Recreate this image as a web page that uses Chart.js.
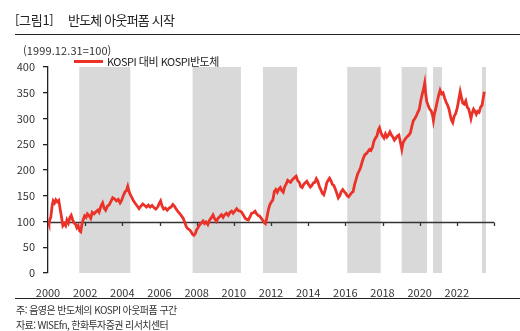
<!DOCTYPE html>
<html lang="ko">
<head>
<meta charset="utf-8">
<title>반도체 아웃퍼폼 시작</title>
<script src="https://cdn.jsdelivr.net/npm/chart.js@4.4.1/dist/chart.umd.min.js"></script>
<style>
  html, body { margin: 0; padding: 0; background: #fff; }
  #wrap { position: relative; width: 520px; height: 331px; overflow: hidden; font-family: "Noto Sans CJK KR", "Noto Sans", sans-serif; color: #222; }
  #chart { position: absolute; left: 0; top: 0; }
  .t { position: absolute; white-space: nowrap; line-height: 1; }
  .rule { position: absolute; left: 15px; right: 0; height: 1px; background: #222; }
</style>
</head>
<body>
<div id="wrap">
  <canvas id="chart" width="520" height="331"></canvas>
  <div class="t" style="left:15px; top:13px; font-size:13px; letter-spacing:-0.3px;">[그림1]</div>
  <div class="t" style="left:68px; top:13px; font-size:13px; letter-spacing:-0.8px;">반도체 아웃퍼폼 시작</div>
  <div class="rule" style="top:34px;"></div>
  <div class="t" style="left:23px; top:45px; font-size:11px; color:#333; letter-spacing:0.1px;">(1999.12.31=100)</div>
  <div style="position:absolute; left:74px; top:60px; width:29px; height:2.5px; background:#eb3228;"></div>
  <div class="t" style="left:107px; top:56px; font-size:11px; color:#222; letter-spacing:-0.5px;">KOSPI 대비 KOSPI반도체</div>
  <div class="rule" style="top:298px;"></div>
  <div class="t" style="left:16px; top:305px; font-size:10px; color:#333; letter-spacing:-0.55px;">주: 음영은 반도체의 KOSPI 아웃퍼폼 구간</div>
  <div class="t" style="left:16px; top:320px; font-size:10px; color:#333; letter-spacing:-0.6px;">자료: WISEfn, 한화투자증권 리서치센터</div>
</div>
<script>
// KOSPI반도체 / KOSPI relative index (1999.12.31 = 100)
const dates = [
  2000.00, 2000.05, 2000.10, 2000.15, 2000.22, 2000.28, 2000.35, 2000.42, 2000.50, 2000.58,
  2000.65, 2000.72, 2000.80, 2000.88, 2000.95, 2001.02, 2001.10, 2001.18, 2001.25, 2001.32,
  2001.40, 2001.48, 2001.55, 2001.62, 2001.70, 2001.76, 2001.83, 2001.90, 2001.97, 2002.05,
  2002.12, 2002.20, 2002.30, 2002.38, 2002.48, 2002.58, 2002.68, 2002.75, 2002.85, 2002.94,
  2003.02, 2003.10, 2003.20, 2003.30, 2003.40, 2003.48, 2003.58, 2003.68, 2003.78, 2003.88,
  2003.95, 2004.05, 2004.15, 2004.22, 2004.29, 2004.36, 2004.43, 2004.52, 2004.60, 2004.70,
  2004.80, 2004.90, 2005.00, 2005.10, 2005.20, 2005.30, 2005.40, 2005.50, 2005.60, 2005.70,
  2005.80, 2005.90, 2006.00, 2006.06, 2006.14, 2006.22, 2006.32, 2006.42, 2006.52, 2006.62,
  2006.72, 2006.80, 2006.90, 2007.00, 2007.10, 2007.20, 2007.28, 2007.36, 2007.44, 2007.52,
  2007.62, 2007.70, 2007.78, 2007.85, 2007.92, 2008.00, 2008.07, 2008.15, 2008.25, 2008.34,
  2008.42, 2008.50, 2008.60, 2008.70, 2008.80, 2008.88, 2008.96, 2009.06, 2009.15, 2009.25,
  2009.33, 2009.42, 2009.50, 2009.60, 2009.70, 2009.80, 2009.88, 2009.96, 2010.05, 2010.15,
  2010.25, 2010.35, 2010.42, 2010.52, 2010.62, 2010.70, 2010.78, 2010.88, 2010.96, 2011.05,
  2011.14, 2011.22, 2011.30, 2011.40, 2011.48, 2011.56, 2011.64, 2011.70, 2011.78, 2011.86,
  2011.94, 2012.02, 2012.10, 2012.18, 2012.26, 2012.34, 2012.42, 2012.50, 2012.58, 2012.66,
  2012.74, 2012.82, 2012.90, 2012.97, 2013.05, 2013.12, 2013.20, 2013.28, 2013.35, 2013.43,
  2013.52, 2013.60, 2013.68, 2013.76, 2013.84, 2013.93, 2014.02, 2014.12, 2014.20, 2014.28,
  2014.36, 2014.44, 2014.52, 2014.60, 2014.68, 2014.76, 2014.84, 2014.92, 2015.00, 2015.08,
  2015.15, 2015.22, 2015.30, 2015.38, 2015.46, 2015.54, 2015.62, 2015.70, 2015.78, 2015.86,
  2015.94, 2016.02, 2016.10, 2016.18, 2016.26, 2016.34, 2016.42, 2016.50, 2016.58, 2016.66,
  2016.74, 2016.82, 2016.90, 2016.98, 2017.06, 2017.14, 2017.22, 2017.30, 2017.38, 2017.46,
  2017.54, 2017.62, 2017.70, 2017.78, 2017.84, 2017.92, 2018.00, 2018.08, 2018.16, 2018.24,
  2018.32, 2018.40, 2018.48, 2018.56, 2018.64, 2018.72, 2018.80, 2018.88, 2018.96, 2019.04,
  2019.10, 2019.18, 2019.26, 2019.34, 2019.42, 2019.50, 2019.58, 2019.66, 2019.74, 2019.82,
  2019.90, 2019.98, 2020.06, 2020.14, 2020.20, 2020.27, 2020.32, 2020.38, 2020.46, 2020.54,
  2020.62, 2020.70, 2020.74, 2020.80, 2020.86, 2020.94, 2021.02, 2021.10, 2021.18, 2021.26,
  2021.34, 2021.42, 2021.50, 2021.58, 2021.66, 2021.72, 2021.78, 2021.86, 2021.94, 2022.02,
  2022.10, 2022.18, 2022.24, 2022.32, 2022.40, 2022.48, 2022.56, 2022.64, 2022.70, 2022.76,
  2022.82, 2022.90, 2022.97, 2023.05, 2023.12, 2023.20, 2023.28, 2023.36, 2023.42, 2023.48
];
const relIndex = [
  100, 95, 104, 108, 130, 140, 136, 142, 138, 141,
  125, 110, 92, 96, 92, 103, 97, 108, 112, 104,
  97, 95, 88, 92, 82, 80, 95, 104, 111, 108,
  115, 112, 106, 118, 115, 119, 122, 118, 130, 136,
  126, 122, 130, 133, 140, 146, 144, 140, 143, 136,
  140, 150, 158, 160, 168, 158, 152, 146, 140, 135,
  130, 125, 130, 134, 131, 128, 132, 128, 131, 127,
  124, 128, 136, 140, 130, 124, 126, 122, 126, 128,
  133, 130, 124, 119, 115, 110, 106, 98, 90, 86,
  84, 80, 75, 73, 76, 84, 88, 93, 97, 101,
  96, 99, 94, 103, 108, 113, 106, 100, 106, 110,
  113, 108, 113, 116, 112, 118, 120, 116, 120, 125,
  121, 120, 118, 112, 106, 104, 103, 110, 116, 117,
  120, 115, 112, 110, 106, 102, 98, 96, 108, 123,
  133, 138, 142, 158, 162, 157, 163, 166, 160, 157,
  168, 173, 180, 178, 176, 180, 183, 186, 188, 180,
  176, 168, 166, 172, 175, 178, 172, 167, 170, 175,
  176, 183, 178, 168, 162, 155, 152, 162, 175, 180,
  184, 180, 172, 170, 163, 155, 146, 150, 158, 162,
  158, 155, 150, 148, 152, 156, 158, 172, 182, 192,
  198, 205, 215, 224, 230, 232, 236, 240, 238, 244,
  256, 262, 266, 278, 282, 272, 266, 262, 270, 264,
  268, 274, 268, 264, 258, 262, 266, 268, 255, 240,
  252, 258, 262, 265, 268, 272, 285, 296, 300, 305,
  312, 318, 335, 348, 356, 369, 350, 333, 325, 318,
  315, 305, 296, 310, 318, 332, 345, 355, 348, 350,
  340, 332, 326, 318, 304, 296, 292, 305, 310, 320,
  336, 352, 342, 330, 328, 334, 322, 318, 310, 300,
  310, 318, 314, 308, 314, 312, 322, 326, 340, 352
];
// periods where the semiconductor index outperformed KOSPI
const outperformStart = [2001.68, 2007.78, 2011.57, 2016.10, 2019.03, 2020.72, 2023.35];
const outperformEnd   = [2004.43, 2010.38, 2013.40, 2017.90, 2020.40, 2021.20, 2023.57];
const yearLabels = ['2000', '2002', '2004', '2006', '2008', '2010', '2012', '2014', '2016', '2018', '2020', '2022'];
const yTicks = [0, 50, 100, 150, 200, 250, 300, 350, 400];

const points = dates.map((d, i) => ({ x: d, y: relIndex[i] }));

const shadePlugin = {
  id: 'shade',
  beforeDatasetsDraw(chart) {
    const { ctx, chartArea: a, scales: { x, y } } = chart;
    ctx.save();
    ctx.fillStyle = '#d9d9d9';
    outperformStart.forEach((s, i) => {
      const x0 = x.getPixelForValue(s);
      const x1 = x.getPixelForValue(outperformEnd[i]);
      ctx.fillRect(x0, a.top, x1 - x0, a.bottom - a.top);
    });
    // base line at 100 with year ticks
    const yb = Math.round(y.getPixelForValue(100)) + 0.5;
    ctx.strokeStyle = '#333';
    ctx.lineWidth = 1.3;
    ctx.beginPath();
    ctx.moveTo(a.left, yb);
    ctx.lineTo(a.right, yb);
    for (let yr = 2000; yr <= 2024; yr += 2) {
      const px = Math.round(x.getPixelForValue(yr)) + 0.5;
      ctx.moveTo(px, yb);
      ctx.lineTo(px, yb + 3.5);
    }
    ctx.stroke();
    ctx.restore();
  }
};

new Chart(document.getElementById('chart'), {
  type: 'line',
  data: {
    datasets: [{
      label: 'KOSPI 대비 KOSPI반도체',
      data: points,
      borderColor: '#eb3228',
      borderWidth: 2.8,
      pointRadius: 0,
      tension: 0,
      fill: false
    }]
  },
  options: {
    responsive: false,
    animation: false,
    layout: { padding: { left: 0, top: 67, right: 26, bottom: 0 } },
    plugins: { legend: { display: false }, tooltip: { enabled: false } },
    scales: {
      x: {
        type: 'linear',
        min: 2000,
        max: 2024,
        grid: { display: false },
        border: { display: false },
        afterBuildTicks(scale) {
          scale.ticks = [];
          for (let yr = 2000; yr <= 2024; yr += 2) scale.ticks.push({ value: yr });
        },
        afterFit(scale) { scale.height = 58; },
        ticks: {
          padding: 5,
          maxRotation: 0,
          autoSkip: false,
          color: '#333',
          font: { family: '"Noto Sans CJK KR", sans-serif', size: 11 },
          callback: (v) => yearLabels[(v - 2000) / 2] || ''
        }
      },
      y: {
        min: 0,
        max: 400,
        afterBuildTicks(scale) { scale.ticks = yTicks.map(v => ({ value: v })); },
        afterFit(scale) { scale.width = 48; },
        grid: { drawOnChartArea: false, drawTicks: true, tickLength: 5, color: '#222', lineWidth: 1.3 },
        border: { display: true, color: '#222', width: 1.3 },
        ticks: {
          padding: 8,
          color: '#333',
          font: { family: '"Noto Sans CJK KR", sans-serif', size: 11 }
        }
      }
    }
  },
  plugins: [shadePlugin]
});
</script>
</body>
</html>
